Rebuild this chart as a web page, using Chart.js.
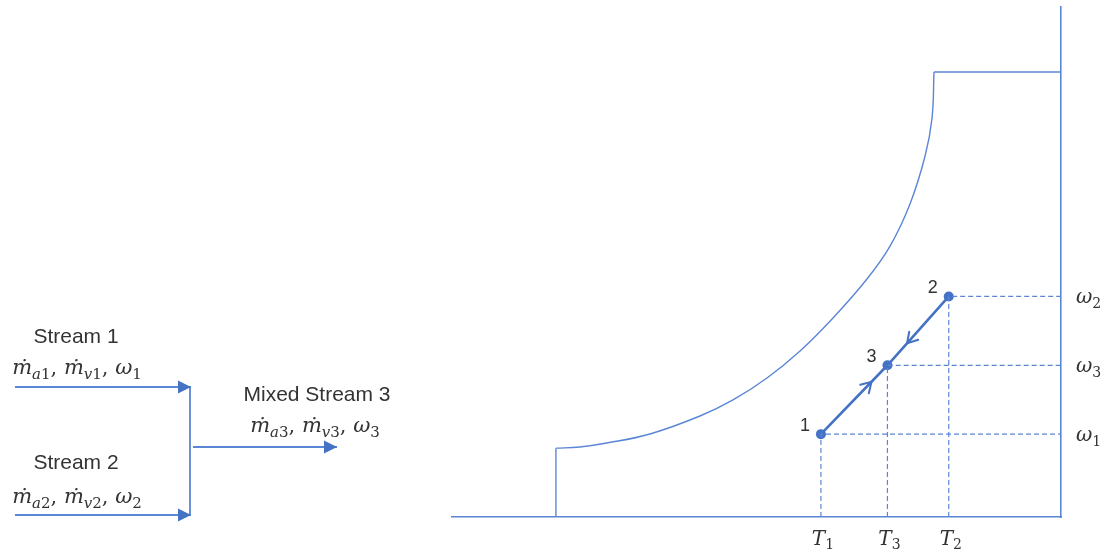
<!DOCTYPE html>
<html>
<head>
<meta charset="utf-8">
<script src="https://cdn.jsdelivr.net/npm/chart.js@4/dist/chart.umd.min.js"></script>
<style>
  html, body { margin: 0; padding: 0; background: #ffffff; }
  #wrap { position: relative; width: 1109px; height: 560px; overflow: hidden; }
  #flow { position: absolute; left: 0; top: 0; }
  #psy { position: absolute; left: 440px; top: 0; }
</style>
</head>
<body>
<div id="wrap">
  <canvas id="flow" width="440" height="560"></canvas>
  <canvas id="psy" width="669" height="560"></canvas>
</div>
<script>
// ---- Mixing of two moist-air streams: flow sketch (diagram units, 10 px each) ----
const flowNames    = ['Stream 1', 'Stream 2', 'Mixed Stream 3'];
const flowFormulas = ['ṁ_a1, ṁ_v1, ω_1', 'ṁ_a2, ṁ_v2, ω_2', 'ṁ_a3, ṁ_v3, ω_3'];
const inletLevels  = [17.3, 4.5];          // stream 1, stream 2
const outletLevel  = 11.3;                 // mixed stream 3
const inletStartX  = 1.5;
const junctionX    = 19.0;
const outletStartX = 19.3;
const outletEndX   = 33.7;
const nameAnchorsX = [7.6, 7.6, 31.7];
const nameAnchorsY = [22.3, 9.7, 16.5];
const formulaAnchorsX = [7.7, 7.7, 31.5];
const formulaAnchorsY = [19.1, 6.2, 13.3];

// ---- Psychrometric chart: dry-bulb temperature (°C) vs humidity ratio (g/kg) ----
const stateNames   = ['1', '3', '2'];
const stateTemps   = [25.5, 31.9, 37.8];   // T1, T3, T2
const stateOmegas  = [6.5, 11.9, 17.3];    // ω1, ω3, ω2
const tempTickLabels  = ['T_1', 'T_3', 'T_2'];
const omegaTickLabels = ['ω_1', 'ω_3', 'ω_2'];
// saturation line
const satTemps  = [0, 2.3, 4.9, 9.05, 13.86, 17.04, 20.31, 23.49, 26.66, 29.93, 32.15, 34.07, 35.52, 36.19, 36.38];
const satOmegas = [5.4, 5.49, 5.8, 6.51, 7.92, 9.18, 10.9, 13.02, 15.61, 18.67, 21.25, 24.55, 28.31, 31.29, 34.9];
const tempRange  = [-10, 48.6];
const omegaRange = [0, 40];

const BLUE = '#4472C4';
const LIGHT = '#5b86d6';
const INK = '#333333';
const MATH_FONT = '"DejaVu Serif", "Liberation Serif", serif';

// Split "ṁ_a1" style strings into runs: base glyphs and subscripts.
function mathRuns(src) {
  const runs = [];
  let i = 0;
  while (i < src.length) {
    if (src[i] === '_') {
      i++;
      while (i < src.length && /[A-Za-z0-9]/.test(src[i])) {
        runs.push({ t: src[i], sub: true, italic: /[A-Za-z]/.test(src[i]) });
        i++;
      }
      continue;
    }
    runs.push({ t: src[i], sub: false, italic: /[A-Za-zṁω]/.test(src[i]) });
    i++;
  }
  return runs;
}

function drawMath(ctx, src, x, baseline, size, align) {
  const runs = mathRuns(src);
  const fontOf = r => (r.italic ? 'italic ' : '') + (r.sub ? Math.round(size * 0.7) : size) + 'px ' + MATH_FONT;
  let total = 0;
  runs.forEach(r => { ctx.font = fontOf(r); r.w = ctx.measureText(r.t).width; total += r.w; });
  let cx = align === 'center' ? x - total / 2 : (align === 'right' ? x - total : x);
  ctx.textAlign = 'left';
  ctx.textBaseline = 'alphabetic';
  runs.forEach(r => {
    ctx.font = fontOf(r);
    ctx.fillText(r.t, cx, r.sub ? baseline + size * 0.22 : baseline);
    cx += r.w;
  });
}

// Filled arrowhead at the last point of datasets flagged with arrowEnd.
const arrowHeads = {
  id: 'arrowHeads',
  afterDatasetsDraw(chart) {
    const ctx = chart.ctx;
    chart.data.datasets.forEach((ds, i) => {
      if (!ds.arrowEnd) return;
      const pts = chart.getDatasetMeta(i).data;
      const a = pts[pts.length - 2], b = pts[pts.length - 1];
      const ang = Math.atan2(b.y - a.y, b.x - a.x);
      const len = 13, half = 6.5;
      ctx.save();
      ctx.translate(b.x, b.y);
      ctx.rotate(ang);
      ctx.beginPath();
      ctx.moveTo(0, 0);
      ctx.lineTo(-len, -half);
      ctx.lineTo(-len, half);
      ctx.closePath();
      ctx.fillStyle = BLUE;
      ctx.fill();
      ctx.restore();
    });
  }
};

const flowText = {
  id: 'flowText',
  afterDraw(chart) {
    const ctx = chart.ctx;
    const sx = chart.scales.x, sy = chart.scales.y;
    ctx.save();
    ctx.fillStyle = INK;
    flowNames.forEach((name, k) => {
      ctx.font = '21px "Liberation Sans", Arial, sans-serif';
      ctx.textAlign = 'center';
      ctx.textBaseline = 'middle';
      ctx.fillText(name, sx.getPixelForValue(nameAnchorsX[k]), sy.getPixelForValue(nameAnchorsY[k]));
      drawMath(ctx, flowFormulas[k], sx.getPixelForValue(formulaAnchorsX[k]), sy.getPixelForValue(formulaAnchorsY[k]) + 5, 21, 'center');
    });
    ctx.restore();
  }
};

const seg = (x0, y0, x1, y1) => [{ x: x0, y: y0 }, { x: x1, y: y1 }];
const flowLine = { showLine: true, borderColor: LIGHT, borderWidth: 1.8, pointRadius: 0, fill: false };

new Chart(document.getElementById('flow'), {
  type: 'scatter',
  data: {
    datasets: [
      Object.assign({ data: seg(inletStartX, inletLevels[0], junctionX + 0.1, inletLevels[0]), arrowEnd: true }, flowLine),
      Object.assign({ data: seg(inletStartX, inletLevels[1], junctionX + 0.1, inletLevels[1]), arrowEnd: true }, flowLine),
      Object.assign({ data: seg(junctionX, inletLevels[0], junctionX, inletLevels[1] - 0.1) }, flowLine),
      Object.assign({ data: seg(outletStartX, outletLevel, outletEndX, outletLevel), arrowEnd: true }, flowLine)
    ]
  },
  options: {
    responsive: false, animation: false, devicePixelRatio: 1, events: [],
    layout: { padding: 0 },
    plugins: { legend: { display: false }, tooltip: { enabled: false } },
    scales: {
      x: { type: 'linear', min: 0, max: 44, display: false },
      y: { type: 'linear', min: 0, max: 56, display: false }
    }
  },
  plugins: [arrowHeads, flowText]
});

// Tick labels, state numbers and direction chevrons on the psychrometric chart.
const psyDecor = {
  id: 'psyDecor',
  afterDraw(chart) {
    const ctx = chart.ctx;
    const sx = chart.scales.x, sy = chart.scales.y, area = chart.chartArea;
    ctx.save();
    ctx.fillStyle = INK;
    stateTemps.forEach((t, k) => drawMath(ctx, tempTickLabels[k], sx.getPixelForValue(t) + 2, area.bottom + 28, 20, 'center'));
    stateOmegas.forEach((w, k) => drawMath(ctx, omegaTickLabels[k], area.right + 15, sy.getPixelForValue(w) + 7, 20, 'left'));

    // state numbers beside the points
    const proc = chart.getDatasetMeta(chart.data.datasets.length - 1).data;
    ctx.font = '18px "Liberation Sans", Arial, sans-serif';
    ctx.textAlign = 'center';
    ctx.textBaseline = 'middle';
    proc.forEach((p, k) => ctx.fillText(stateNames[k], p.x - 16, p.y - 8));

    // chevrons pointing into the mixed state 3
    const p1 = proc[0], p3 = proc[1], p2 = proc[2];
    const chevron = (from, to, f) => {
      const x = from.x + (to.x - from.x) * f, y = from.y + (to.y - from.y) * f;
      const ang = Math.atan2(to.y - from.y, to.x - from.x);
      ctx.save();
      ctx.translate(x, y);
      ctx.rotate(ang);
      ctx.beginPath();
      ctx.moveTo(-10, -6);
      ctx.lineTo(0, 0);
      ctx.lineTo(-10, 6);
      ctx.strokeStyle = BLUE;
      ctx.lineWidth = 2;
      ctx.lineCap = 'round';
      ctx.lineJoin = 'miter';
      ctx.stroke();
      ctx.restore();
    };
    chevron(p1, p3, 0.76);
    chevron(p2, p3, 0.68);
    ctx.restore();
  }
};

const thin = { showLine: true, borderColor: LIGHT, borderWidth: 1.4, pointRadius: 0, fill: false };
const guideSets = stateTemps.map((t, k) => ({
  data: [{ x: t, y: omegaRange[0] }, { x: t, y: stateOmegas[k] }, { x: tempRange[1], y: stateOmegas[k] }],
  showLine: true, borderColor: LIGHT, borderWidth: 1.2, borderDash: [5, 3], pointRadius: 0, fill: false
}));

const lastSat = satTemps.length - 1;

new Chart(document.getElementById('psy'), {
  type: 'scatter',
  data: {
    datasets: [
      Object.assign({ data: satTemps.map((t, k) => ({ x: t, y: satOmegas[k] })), tension: 0.4 }, thin),
      Object.assign({ data: seg(satTemps[0], omegaRange[0], satTemps[0], satOmegas[0]) }, thin),
      Object.assign({ data: seg(satTemps[lastSat], satOmegas[lastSat], tempRange[1], satOmegas[lastSat]) }, thin),
      ...guideSets,
      {
        data: stateTemps.map((t, k) => ({ x: t, y: stateOmegas[k] })),
        showLine: true, borderColor: BLUE, borderWidth: 2.6,
        pointRadius: 5, pointBackgroundColor: BLUE, pointBorderColor: BLUE, pointBorderWidth: 0
      }
    ]
  },
  options: {
    responsive: false, animation: false, devicePixelRatio: 1, events: [],
    layout: { padding: { left: 12, top: 7, right: 0, bottom: 0 } },
    plugins: { legend: { display: false }, tooltip: { enabled: false } },
    scales: {
      x: {
        type: 'linear', min: tempRange[0], max: tempRange[1], position: 'bottom',
        grid: { display: false }, ticks: { display: false },
        border: { display: true, color: LIGHT, width: 1.6 },
        afterFit: s => { s.height = 43; }
      },
      y: {
        type: 'linear', min: omegaRange[0], max: omegaRange[1], position: 'right',
        grid: { display: false }, ticks: { display: false },
        border: { display: true, color: LIGHT, width: 1.6 },
        afterFit: s => { s.width = 48; }
      }
    }
  },
  plugins: [psyDecor]
});
</script>
</body>
</html>
